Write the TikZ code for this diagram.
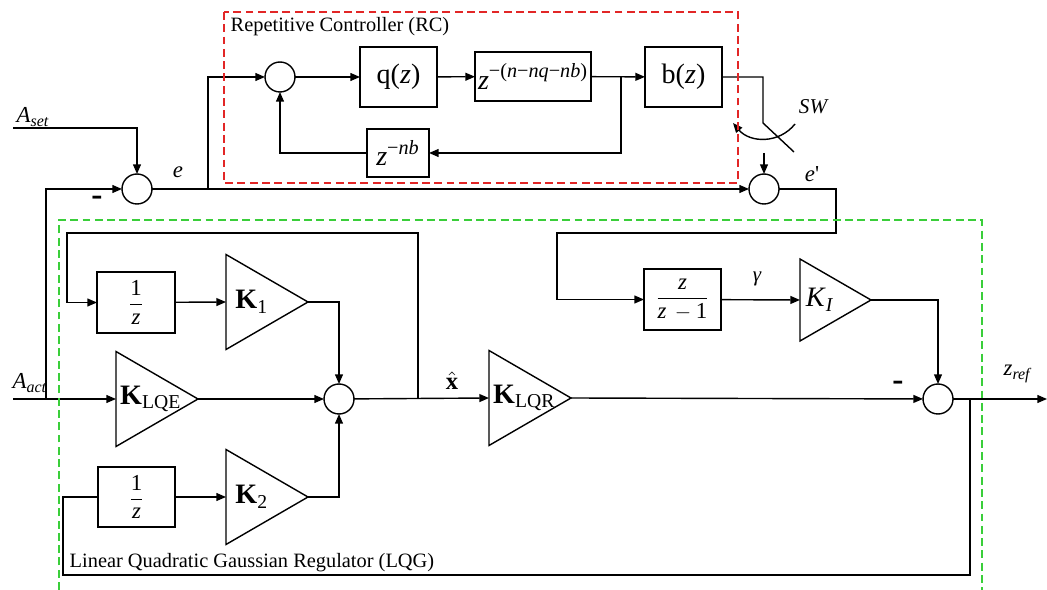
\documentclass[tikz,border=0pt]{standalone}
\usepackage{amsmath}
\usepackage{fontspec}
\setmainfont{Liberation Serif}
\usetikzlibrary{shapes.geometric, arrows.meta, positioning, calc}
\definecolor{rcred}{RGB}{226, 38, 38}
\definecolor{lqggreen}{RGB}{58, 206, 58}

\newcommand{\sigsub}[2]{\textit{#1}\textsubscript{\textit{#2}}}
\newcommand{\fsz}[1]{\fontsize{#1}{#1}\selectfont}

\begin{document}
\begin{tikzpicture}[
    x=0.02cm, y=-0.02cm,
    line width=0.8pt,
    every node/.style={font=\fsz{12}},
    sumnode/.style={
        circle, 
        draw, 
        minimum size=0.6cm, 
        inner sep=0pt, 
        outer sep=0pt
    },
    block/.style={
        rectangle, 
        draw, 
        inner sep=0pt, 
        outer sep=0pt, 
        font=\fsz{16}
    },
    gain/.style={
        isosceles triangle, 
        isosceles triangle stretches, 
        draw, 
        shape border rotate=0, 
        inner sep=0pt, 
        outer sep=0pt, 
        minimum width=1.9cm, 
        minimum height=1.64cm
    },
    gainlbl/.style={inner sep=0pt, font=\fsz{16}},
    siglbl/.style={inner sep=1pt, font=\fsz{12}\itshape},
    minus/.style={inner sep=0pt, font=\fsz{19}\bfseries},
    grouptitle/.style={inner sep=0pt, font=\fsz{11.6}},
    groupbox/.style={dash pattern=on 4.5pt off 2.5pt, line width=0.8pt},
    arrow/.style={-{Triangle[length=5.5pt, width=4.5pt]}}
]
\useasboundingbox (0,0) rectangle (1047,590);

% ==================== REPETITIVE CONTROLLER ====================
\node (s1) [sumnode] at (137,189) {};
\node (src) [sumnode] at (280,77) {};
\node (s2) [sumnode] at (764,189) {};
\node (qz) [block, minimum width=1.54cm, minimum height=1.2cm] at (398.5,77) {q(\textit{z})};
\node (zd) [block, minimum width=2.32cm, minimum height=0.98cm] at (533,76.5) {\textit{z}\textsuperscript{\fsz{11.5}−(\textit{n}−\textit{nq}−\textit{nb})}};
\node (bz) [block, minimum width=1.54cm, minimum height=1.2cm] at (683.5,77) {b(\textit{z})};
\node (znb) [block, minimum width=1.24cm, minimum height=0.96cm] at (398,153) {\textit{z}\textsuperscript{\fsz{11.5}−\textit{nb}}};

\coordinate (aset) at (13,128);
\coordinate (fbj) at (46,399);
\coordinate (eb) at (208,189);
\coordinate (dj) at (621,77);
\coordinate (swa) at (763,123);
\coordinate (swb) at (794,152);
\coordinate (arcs) at (795,124);
\coordinate (arce) at (733,123);
\coordinate (swo) at (764,153);

\draw [arrow] (aset) -| (s1);
\draw [arrow] (fbj) |- (s1);
\draw [arrow] (s1) -- (s2);
\draw [arrow] (eb) |- (src);
\draw [arrow] (src) -- (qz);
\draw [arrow] (qz) -- (zd);
\draw [arrow] (zd) -- (bz);
\draw [arrow] (dj) |- (znb);
\draw [arrow] (znb) -| (src);
\draw (bz) -| (swa) -- (swb);
\draw [arrow] (arcs) .. controls (779,144) and (750,143) .. (arce);
\draw [arrow] (swo) -- (s2);

\node (l_aset) [siglbl, font=\fsz{13}] at (33,117) {\sigsub{A}{set}};
\node (l_e) [siglbl, font=\fsz{13}\itshape] at (178,172) {e};
\node (l_ep) [siglbl, font=\fsz{13}] at (812,174) {\textit{e}\textquotesingle};
\node (l_sw) [siglbl] at (813,107) {SW};
\node (m1) [minus] at (97,201) {-};

\draw [groupbox, draw=rcred] (224,12) rectangle (738,183);
\node (title_rc) [grouptitle, anchor=west] at (230,27) {Repetitive Controller (RC)};

% ==================== LQG REGULATOR ====================
\node (int1) [block, minimum width=1.56cm, minimum height=1.22cm] at (136,302.5) {\fsz{13}$\dfrac{\text{1}}{\textit{z}}$};
\node (int2) [block, minimum width=1.54cm, minimum height=1.2cm] at (136.5,497) {\fsz{13}$\dfrac{\text{1}}{\textit{z}}$};
\node (acc) [block, minimum width=1.54cm, minimum height=1.22cm] at (682.5,299.5) {\fsz{13}$\dfrac{\textit{z}}{\textit{z}\,-\text{1}}$};

\node (k1) [gain, anchor=west] at (226,302) {};
\node (klqe) [gain, anchor=west] at (116,399) {};
\node (k2) [gain, anchor=west] at (226,497) {};
\node (klqr) [gain, anchor=west] at (489,398) {};
\node (ki) [gain, anchor=west, minimum width=1.64cm, minimum height=1.42cm] at (800,300) {};

\node (t_k1) [gainlbl, right=5pt] at (k1.west) {\textbf{K}\textsubscript{1}};
\node (t_klqe) [gainlbl, right=2pt] at (klqe.west) {\textbf{K}\textsubscript{LQE}};
\node (t_k2) [gainlbl, right=5pt] at (k2.west) {\textbf{K}\textsubscript{2}};
\node (t_klqr) [gainlbl, right=2pt] at (klqr.west) {\textbf{K}\textsubscript{LQR}};
\node (t_ki) [gainlbl, right=3pt] at (ki.west) {\sigsub{K}{I}};

\node (s4) [sumnode] at (339,399) {};
\node (s3) [sumnode] at (938,399) {};

\coordinate (aact) at (13,399);
\coordinate (xb) at (418,399);
\coordinate (xt) at (418,233);
\coordinate (xl) at (67,233);
\coordinate (ep1) at (836,233);
\coordinate (ep2) at (557,233);
\coordinate (ob) at (970,399);
\coordinate (ob2) at (970,575);
\coordinate (ob3) at (63,575);
\coordinate (zout) at (1047,399);

\draw [arrow] (aact) -- (klqe.west);
\draw [arrow] (klqe.east) -- (s4);
\draw [arrow] (int1) -- (k1.west);
\draw [arrow] (k1.east) -| (s4);
\draw [arrow] (int2) -- (k2.west);
\draw [arrow] (k2.east) -| (s4);
\draw [arrow] (s4) -- (klqr.west);
\draw [arrow] (xb) -- (xt) -- (xl) |- (int1);
\draw [arrow] (s2) -| (ep1) -- (ep2) |- (acc);
\draw [arrow] (acc) -- (ki.west);
\draw [arrow] (ki.east) -| (s3);
\draw [arrow] (klqr.east) -- (s3);
\draw [arrow] (s3) -- (zout);
\draw (ob) -- (ob2) -- (ob3) |- (int2);

\node (l_aact) [siglbl, font=\fsz{13}] at (30,383) {\sigsub{A}{act}};
\node (l_xhat) [siglbl, font=\fsz{14}] at (452,381) {$\hat{\mathbf{x}}$};
\node (l_gam) [siglbl] at (757,279) {γ};
\node (l_zref) [siglbl, font=\fsz{13}] at (1018,374) {\sigsub{z}{ref}};
\node (m2) [minus] at (898,386) {-};

\draw [groupbox, draw=lqggreen] (59,590) -- (59,220) -- (982,220) -- (982,590);
\node (title_lqg) [grouptitle, anchor=west] at (69,563) {Linear Quadratic Gaussian Regulator (LQG)};

\end{tikzpicture}
\end{document}
